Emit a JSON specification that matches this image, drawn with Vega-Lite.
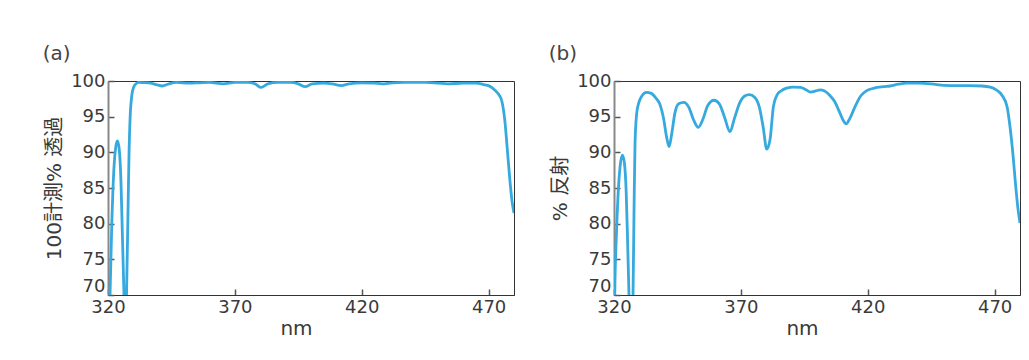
{
  "$schema": "https://vega.github.io/schema/vega-lite/v6.json",
  "padding": {"left": 42, "top": 43, "right": 5, "bottom": 5},
  "background": "white",
  "datasets": {
    "a": [
      {"nm": 320, "v": 60}, {"nm": 320.8, "v": 70}, {"nm": 321.5, "v": 80}, {"nm": 322.3, "v": 87.5},
      {"nm": 323, "v": 90.6}, {"nm": 323.7, "v": 91.6}, {"nm": 324.4, "v": 90.5}, {"nm": 325.1, "v": 86},
      {"nm": 325.7, "v": 78}, {"nm": 326.3, "v": 70}, {"nm": 326.8, "v": 62}, {"nm": 327.3, "v": 70},
      {"nm": 327.8, "v": 80}, {"nm": 328.3, "v": 90}, {"nm": 328.8, "v": 95.5}, {"nm": 329.4, "v": 98},
      {"nm": 330.2, "v": 99.2}, {"nm": 331, "v": 99.6}, {"nm": 332, "v": 99.8}, {"nm": 336, "v": 99.75},
      {"nm": 339, "v": 99.5}, {"nm": 341.4, "v": 99.3}, {"nm": 344, "v": 99.6}, {"nm": 347, "v": 99.8},
      {"nm": 352, "v": 99.7}, {"nm": 356, "v": 99.75}, {"nm": 360, "v": 99.8}, {"nm": 365.4, "v": 99.6},
      {"nm": 370, "v": 99.8}, {"nm": 375, "v": 99.8}, {"nm": 378, "v": 99.6}, {"nm": 380.3, "v": 99.1},
      {"nm": 383, "v": 99.6}, {"nm": 387, "v": 99.8}, {"nm": 392, "v": 99.8}, {"nm": 395, "v": 99.6},
      {"nm": 397.7, "v": 99.2}, {"nm": 400.5, "v": 99.6}, {"nm": 405, "v": 99.7}, {"nm": 409, "v": 99.55},
      {"nm": 411.8, "v": 99.35}, {"nm": 415, "v": 99.6}, {"nm": 420, "v": 99.75}, {"nm": 425, "v": 99.7},
      {"nm": 428, "v": 99.6}, {"nm": 432, "v": 99.75}, {"nm": 437, "v": 99.8}, {"nm": 445, "v": 99.8},
      {"nm": 450, "v": 99.7}, {"nm": 454, "v": 99.6}, {"nm": 460, "v": 99.7}, {"nm": 465, "v": 99.7},
      {"nm": 468, "v": 99.5}, {"nm": 470.8, "v": 99.2}, {"nm": 472.5, "v": 98.7}, {"nm": 474, "v": 98.1},
      {"nm": 475.2, "v": 97.2}, {"nm": 476.4, "v": 94.4}, {"nm": 477.3, "v": 90.7}, {"nm": 478.4, "v": 86},
      {"nm": 479.2, "v": 83.2}, {"nm": 480, "v": 81.5}
    ],
    "b": [
      {"nm": 320, "v": 60}, {"nm": 320.3, "v": 70}, {"nm": 320.9, "v": 78}, {"nm": 321.6, "v": 84},
      {"nm": 322.4, "v": 88}, {"nm": 323.3, "v": 89.6}, {"nm": 324.1, "v": 88.5}, {"nm": 324.8, "v": 84.5},
      {"nm": 325.4, "v": 77}, {"nm": 325.9, "v": 70}, {"nm": 326.6, "v": 60}, {"nm": 327.5, "v": 70},
      {"nm": 327.9, "v": 82}, {"nm": 328.3, "v": 91.5}, {"nm": 329.1, "v": 95.9}, {"nm": 330.8, "v": 97.8},
      {"nm": 332.8, "v": 98.4}, {"nm": 334.5, "v": 98.3}, {"nm": 336.5, "v": 97.6}, {"nm": 338, "v": 96.8},
      {"nm": 339.5, "v": 94.8}, {"nm": 340.8, "v": 92}, {"nm": 341.7, "v": 90.8}, {"nm": 342.7, "v": 92.5},
      {"nm": 344, "v": 95.5}, {"nm": 345.5, "v": 96.8}, {"nm": 347.5, "v": 97.0}, {"nm": 349.5, "v": 96.3},
      {"nm": 351.3, "v": 94.6}, {"nm": 353.2, "v": 93.5}, {"nm": 355, "v": 94.6}, {"nm": 357, "v": 96.6},
      {"nm": 359.4, "v": 97.3}, {"nm": 361.5, "v": 96.8}, {"nm": 363.5, "v": 95.0}, {"nm": 365.7, "v": 92.9},
      {"nm": 367.5, "v": 94.8}, {"nm": 369.5, "v": 96.9}, {"nm": 371.5, "v": 97.9}, {"nm": 373.3, "v": 98.1},
      {"nm": 375.5, "v": 97.7}, {"nm": 377.3, "v": 96.3}, {"nm": 378.8, "v": 93.5}, {"nm": 380.2, "v": 90.45},
      {"nm": 381.5, "v": 91.8}, {"nm": 382.8, "v": 96.4}, {"nm": 384.2, "v": 98.0}, {"nm": 385.8, "v": 98.6},
      {"nm": 388, "v": 99.0}, {"nm": 390.7, "v": 99.15}, {"nm": 393.5, "v": 99.1}, {"nm": 395.5, "v": 98.8},
      {"nm": 397.5, "v": 98.45}, {"nm": 399.5, "v": 98.6}, {"nm": 401.2, "v": 98.75}, {"nm": 403, "v": 98.6},
      {"nm": 405, "v": 98.0}, {"nm": 407, "v": 97.1}, {"nm": 408.8, "v": 95.7}, {"nm": 410.3, "v": 94.5},
      {"nm": 411.5, "v": 94.0}, {"nm": 413, "v": 94.8}, {"nm": 415, "v": 96.4}, {"nm": 417.2, "v": 97.9},
      {"nm": 419.6, "v": 98.65}, {"nm": 422.5, "v": 99.0}, {"nm": 426.2, "v": 99.2}, {"nm": 428.8, "v": 99.3},
      {"nm": 432, "v": 99.55}, {"nm": 435.4, "v": 99.7}, {"nm": 440, "v": 99.7}, {"nm": 445, "v": 99.6},
      {"nm": 450, "v": 99.4}, {"nm": 455, "v": 99.35}, {"nm": 460, "v": 99.35}, {"nm": 465, "v": 99.3},
      {"nm": 468.3, "v": 99.15}, {"nm": 470.5, "v": 98.8}, {"nm": 472.9, "v": 98.0}, {"nm": 474.9, "v": 96.4},
      {"nm": 476.2, "v": 93.2}, {"nm": 477.3, "v": 89.4}, {"nm": 478.2, "v": 85.7}, {"nm": 479.1, "v": 82.4},
      {"nm": 480, "v": 80.1}
    ]
  },
  "hconcat": [
    {
      "title": {"text": "(a)"},
      "width": 406,
      "height": 214,
      "data": {"name": "a"},
      "mark": {"type": "line", "interpolate": "monotone", "clip": true, "color": "#36a9de", "strokeWidth": 2.8},
      "encoding": {
        "x": {"field": "nm", "type": "quantitative", "scale": {"domain": [320, 480], "nice": false}, "axis": {"title": "nm", "values": [320, 370, 420, 470], "titleX": 188}},
        "y": {"field": "v", "type": "quantitative", "scale": {"domain": [70, 100], "nice": false}, "axis": {"title": "100計測% 透過", "values": [70, 75, 80, 85, 90, 95, 100]}}
      }
    },
    {
      "title": {"text": "(b)"},
      "width": 406,
      "height": 214,
      "data": {"name": "b"},
      "mark": {"type": "line", "interpolate": "monotone", "clip": true, "color": "#36a9de", "strokeWidth": 2.8},
      "encoding": {
        "x": {"field": "nm", "type": "quantitative", "scale": {"domain": [320, 480], "nice": false}, "axis": {"title": "nm", "values": [320, 370, 420, 470], "titleX": 188}},
        "y": {"field": "v", "type": "quantitative", "scale": {"domain": [70, 100], "nice": false}, "axis": {"title": "% 反射", "values": [70, 75, 80, 85, 90, 95, 100]}}
      }
    }
  ],
  "spacing": 33,
  "config": {
    "font": "DejaVu Sans, Noto Sans CJK JP",
    "view": {"stroke": "#333", "strokeWidth": 1},
    "title": {"anchor": "start", "frame": "bounds", "fontSize": 20, "fontWeight": "normal", "color": "#444", "font": "DejaVu Sans", "offset": 8, "dx": -2},
    "axis": {
      "grid": false,
      "labelFont": "DejaVu Sans",
      "labelFontSize": 18,
      "labelColor": "#3a3a3a",
      "labelFlush": false,
      "titleFont": "DejaVu Sans, Noto Sans CJK JP",
      "titleFontSize": 20,
      "titleFontWeight": "normal",
      "titleColor": "#3a3a3a",
      "tickColor": "#555",
      "tickSize": -6,
      "tickWidth": 1.5,
      "domainColor": "#333",
      "labelPadding": 9
    },
    "axisY": {
      "domainColor": "#888",
      "domainWidth": 2,
      "titlePadding": 6,
      "labelBaseline": {"condition": {"test": "datum.value == 70", "value": "bottom"}, "value": "middle"}
    },
    "axisX": {"titlePadding": 2}
  }
}
